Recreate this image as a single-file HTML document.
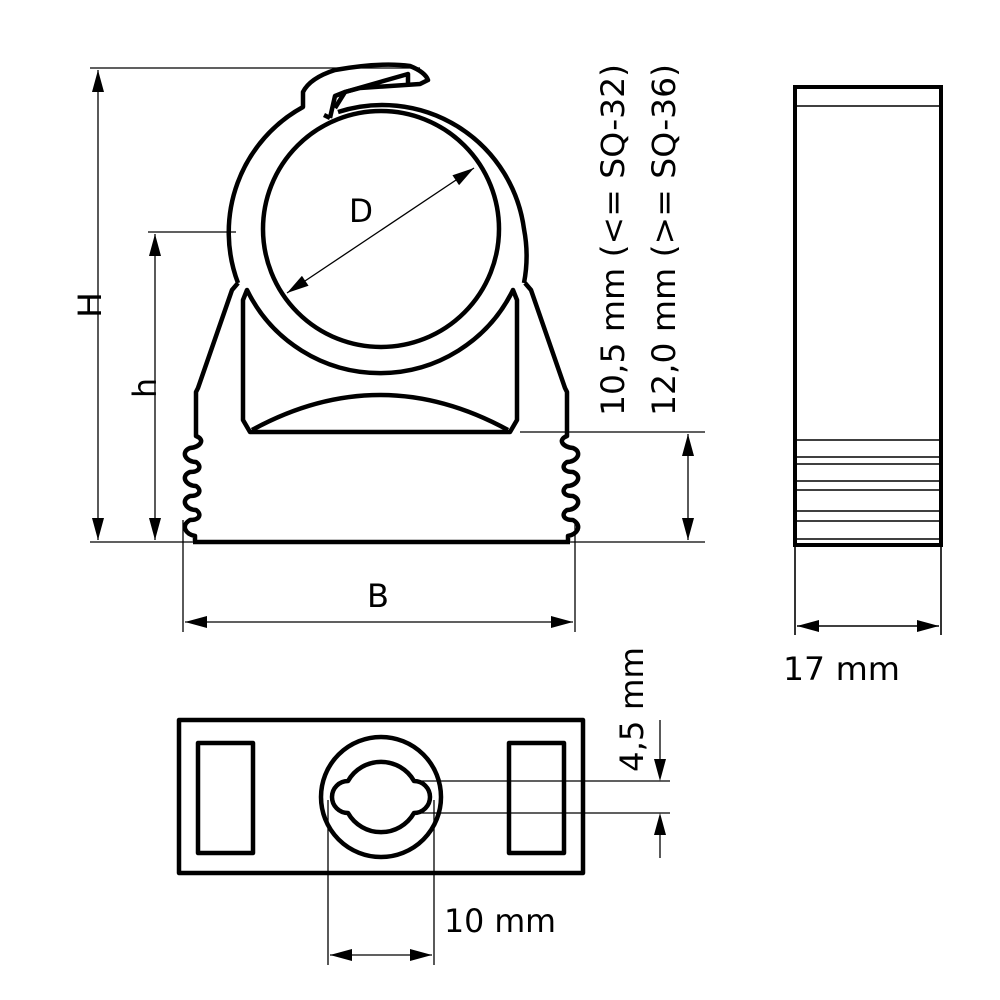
<!DOCTYPE html>
<html><head><meta charset="utf-8"><style>body{margin:0;background:#fff}svg{display:block}</style></head><body>
<svg width="1000" height="1000" viewBox="0 0 1000 1000" xmlns="http://www.w3.org/2000/svg" font-family="DejaVu Sans Condensed, DejaVu Sans, sans-serif">
<defs>
<marker id="a" viewBox="0 0 22 12" refX="22" refY="6" markerWidth="22" markerHeight="12" markerUnits="userSpaceOnUse" orient="auto-start-reverse"><path d="M0,0 L22,6 L0,12 z" fill="#000" stroke="none"/></marker>
</defs>
<g stroke="#000" fill="none">
<g stroke-width="1.3">
<line x1="90" y1="68" x2="420" y2="68"/>
<line x1="148" y1="232" x2="236" y2="232"/>
<line x1="90" y1="542" x2="705" y2="542"/>
<line x1="520" y1="432" x2="705" y2="432"/>
<line x1="183" y1="520" x2="183" y2="632"/>
<line x1="575" y1="520" x2="575" y2="632"/>
<line x1="98" y1="70" x2="98" y2="540" marker-start="url(#a)" marker-end="url(#a)"/>
<line x1="155" y1="234" x2="155" y2="540" marker-start="url(#a)" marker-end="url(#a)"/>
<line x1="688" y1="434" x2="688" y2="540" marker-start="url(#a)" marker-end="url(#a)"/>
<line x1="185" y1="622" x2="573" y2="622" marker-start="url(#a)" marker-end="url(#a)"/>
<line x1="287" y1="293" x2="474" y2="168" marker-start="url(#a)" marker-end="url(#a)"/>
</g>
<g stroke-width="4.5" stroke-linejoin="round">
<circle cx="381" cy="229" r="118"/>
<path d="M238,283 A143,143 0 0 1 303,107 L303,92 Q310,78 335,70 Q380,62 410,66 Q425,72 428,80 L420,84 L360,88 L345,92 L335,108"/>
<path d="M330,118 L335,96 L345,92 L408,74 L408,86"/>
<path d="M338,112 A143,143 0 0 1 524,229 A143,143 0 0 1 524,283"/>
<path d="M324,115 L330,118"/>
<path d="M247,290 L243,300 L243,420 L250,432 L510,432 L517,420 L517,300 L513,290 A148,148 0 0 1 247,290 Z"/>
<path d="M252,430 Q380,360 508,430"/>
<g id="w">
<path d="M238,283 L232,290 L198,388 L196,392 L196,436 C206,440 200,447 190,448 C180,452 186,462 196,462 C202,466 200,472 190,472 C180,476 186,486 196,486 C202,490 200,496 190,496 C180,500 186,510 196,510 C202,514 200,520 190,520 C180,526 186,534 195,536 L195,541"/>
</g>
<use href="#w" transform="translate(763,0) scale(-1,1)"/>
<line x1="193" y1="542" x2="570" y2="542"/>
</g>
<rect x="795" y="87" width="146" height="458" stroke-width="4"/>
<g stroke-width="1.6">
<line x1="797" y1="106" x2="939" y2="106"/>
<line x1="797" y1="440" x2="939" y2="440"/>
<line x1="797" y1="457" x2="939" y2="457"/>
<line x1="797" y1="464" x2="939" y2="464"/>
<line x1="797" y1="481" x2="939" y2="481"/>
<line x1="797" y1="490" x2="939" y2="490"/>
<line x1="797" y1="511" x2="939" y2="511"/>
<line x1="797" y1="521" x2="939" y2="521"/>
<line x1="797" y1="539" x2="939" y2="539"/>
<line x1="795" y1="545" x2="795" y2="635"/>
<line x1="941" y1="545" x2="941" y2="635"/>
<line x1="797" y1="626" x2="939" y2="626" marker-start="url(#a)" marker-end="url(#a)"/>
</g>
<g stroke-width="4.5" stroke-linejoin="round">
<rect x="179" y="720" width="404" height="153"/>
<rect x="198" y="743" width="55" height="110"/>
<rect x="509" y="743" width="55" height="110"/>
<circle cx="381" cy="797" r="60"/>
<path d="M348,781 A38,38 0 0 1 414,781 A16,16 0 0 1 414,813 A38,38 0 0 1 348,813 A16,16 0 0 1 348,781 Z"/>
</g>
<g stroke-width="1.3">
<line x1="414" y1="781" x2="670" y2="781"/>
<line x1="414" y1="813" x2="670" y2="813"/>
<line x1="660" y1="720" x2="660" y2="770"/>
<line x1="660" y1="858" x2="660" y2="824"/>
<line x1="328" y1="800" x2="328" y2="965"/>
<line x1="434" y1="800" x2="434" y2="965"/>
<line x1="330" y1="955" x2="432" y2="955" marker-start="url(#a)" marker-end="url(#a)"/>
</g>
</g>
<polygon points="654,759 666,759 660,781" fill="#000"/>
<polygon points="654,835 666,835 660,813" fill="#000"/>
<g font-size="32" fill="#000">
<text x="349" y="222" textLength="24" lengthAdjust="spacingAndGlyphs">D</text>
<text x="367" y="607" textLength="22" lengthAdjust="spacingAndGlyphs">B</text>
<text transform="translate(101,318) rotate(-90)" textLength="26" lengthAdjust="spacingAndGlyphs">H</text>
<text transform="translate(156,398) rotate(-90)" textLength="20" lengthAdjust="spacingAndGlyphs">h</text>
<text transform="translate(624,416) rotate(-90)" textLength="352" lengthAdjust="spacingAndGlyphs">10,5 mm (&lt;= SQ-32)</text>
<text transform="translate(675,416) rotate(-90)" textLength="352" lengthAdjust="spacingAndGlyphs">12,0 mm (&gt;= SQ-36)</text>
<text x="783" y="680" textLength="117" lengthAdjust="spacingAndGlyphs">17 mm</text>
<text x="444" y="932" textLength="112" lengthAdjust="spacingAndGlyphs">10 mm</text>
<text transform="translate(643,772) rotate(-90)" textLength="125" lengthAdjust="spacingAndGlyphs">4,5 mm</text>
</g>
</svg>
</body></html>
